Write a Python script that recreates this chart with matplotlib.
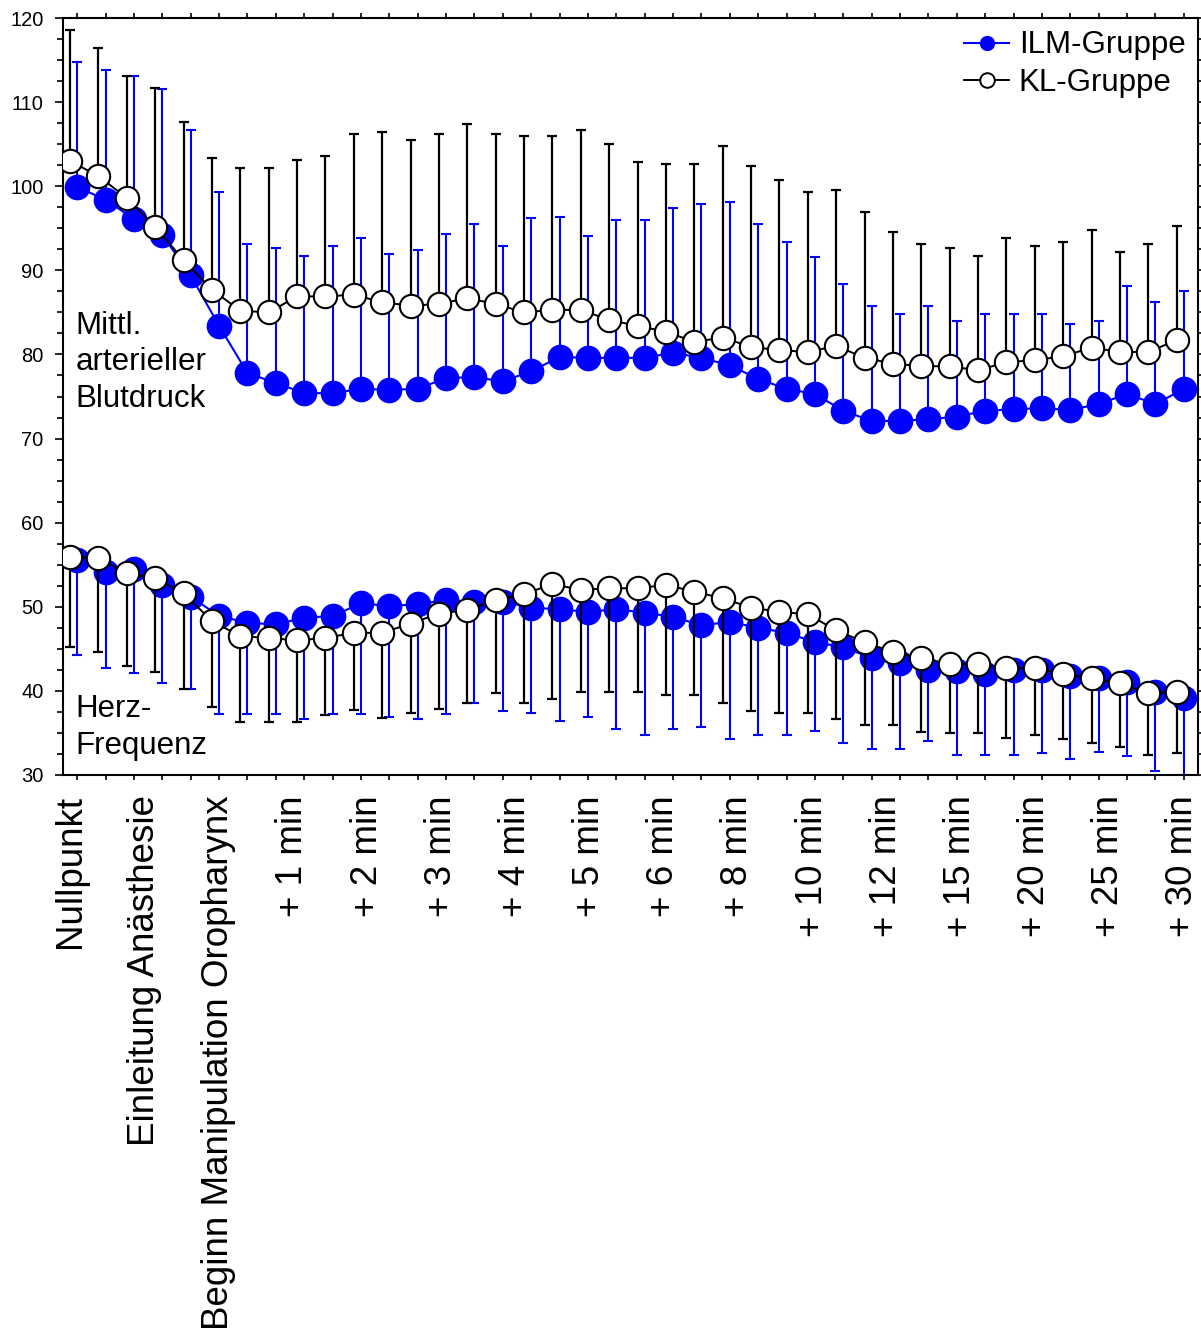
import numpy as np
import matplotlib.pyplot as plt
from matplotlib.lines import Line2D

plt.rcParams.update({
    'font.family': 'Liberation Sans',
    'axes.linewidth': 1.5,
})

# Zeitpunkte (Achsenbeschriftung)
zeitpunkte = ['Nullpunkt', 'Einleitung Anästhesie', 'Beginn Manipulation Oropharynx',
              '+ 1 min', '+ 2 min', '+ 3 min', '+ 4 min', '+ 5 min', '+ 6 min',
              '+ 8 min', '+ 10 min', '+ 12 min', '+ 15 min', '+ 20 min',
              '+ 25 min', '+ 30 min']

# Mittlerer arterieller Blutdruck, Mittelwert und SD
map_ilm = [99.9, 98.4, 96.1, 94.2, 89.4, 83.4, 77.8, 76.6, 75.4, 75.4,
           75.9, 75.8, 75.9, 77.2, 77.3, 76.8, 78.0, 79.7, 79.6, 79.6,
           79.6, 80.2, 79.6, 78.7, 77.1, 75.9, 75.3, 73.3, 72.1, 72.1,
           72.3, 72.6, 73.3, 73.5, 73.6, 73.4, 74.1, 75.3, 74.1, 75.9]
map_ilm_sd = [14.9, 15.4, 17.0, 17.4, 17.3, 15.9, 15.3, 16.1, 16.3, 17.5,
              17.9, 16.1, 16.5, 17.1, 18.2, 16.1, 18.2, 16.7, 14.5, 16.4,
              16.4, 17.2, 18.3, 19.4, 18.4, 17.5, 16.3, 15.1, 13.7, 12.7,
              13.5, 11.4, 11.5, 11.3, 11.2, 10.2, 9.9, 12.8, 12.1, 11.6]
map_kl = [103.0, 101.2, 98.6, 95.2, 91.2, 87.7, 85.2, 85.0, 86.9, 86.9,
          87.1, 86.2, 85.8, 86.0, 86.7, 86.0, 85.0, 85.3, 85.3, 84.1,
          83.4, 82.7, 81.5, 82.0, 80.9, 80.5, 80.3, 81.0, 79.6, 78.9,
          78.6, 78.6, 78.1, 79.1, 79.3, 79.8, 80.8, 80.3, 80.3, 81.7]
map_kl_sd = [15.6, 15.2, 14.5, 16.5, 16.4, 15.7, 17.0, 17.2, 16.2, 16.7,
             19.1, 20.2, 19.7, 20.2, 20.7, 20.2, 21.0, 20.7, 21.4, 20.9,
             19.5, 19.9, 21.1, 22.8, 21.5, 20.2, 19.0, 18.6, 17.3, 15.7,
             14.5, 14.1, 13.6, 14.7, 13.6, 13.6, 14.0, 11.9, 12.8, 13.6]

# Herzfrequenz, Mittelwert und SD
hr_ilm = [55.6, 54.1, 54.5, 52.6, 51.2, 48.9, 48.1, 47.9, 48.7, 48.9,
          50.4, 50.1, 50.3, 50.8, 50.6, 50.6, 49.9, 49.7, 49.4, 49.7,
          49.3, 48.8, 47.8, 48.2, 47.5, 46.9, 45.8, 45.2, 43.9, 43.3,
          42.5, 42.4, 42.0, 42.5, 42.5, 41.8, 41.5, 41.1, 39.9, 39.2]
hr_ilm_sd = [11.3, 11.4, 12.4, 11.7, 11.0, 11.7, 10.9, 10.7, 12.0, 11.7,
             13.2, 13.2, 13.6, 13.6, 12.0, 13.0, 12.5, 13.3, 12.5, 14.2,
             14.5, 13.3, 12.1, 13.9, 12.7, 12.1, 10.6, 11.4, 10.8, 10.2,
             8.5, 10.0, 9.6, 10.1, 9.9, 9.9, 8.8, 8.8, 9.4, 11.0]
hr_kl = [55.9, 55.8, 54.0, 53.4, 51.6, 48.3, 46.5, 46.3, 46.0, 46.3,
         46.9, 46.9, 48.0, 49.2, 49.6, 50.8, 51.5, 52.7, 52.0, 52.2,
         52.2, 52.6, 51.8, 51.0, 49.9, 49.4, 49.1, 47.2, 45.8, 44.6,
         43.9, 43.2, 43.2, 42.7, 42.7, 42.0, 41.5, 40.9, 39.7, 39.9]
hr_kl_sd = [10.7, 11.2, 11.0, 11.2, 11.4, 10.2, 10.2, 10.0, 9.7, 9.2,
            9.2, 10.1, 10.6, 11.4, 11.0, 11.1, 12.9, 13.7, 12.1, 12.3,
            12.3, 13.1, 12.3, 12.4, 12.3, 12.0, 11.7, 10.5, 9.9, 8.7,
            8.8, 8.2, 8.2, 8.3, 7.9, 7.7, 7.7, 7.6, 7.3, 7.3]

blue = '#0000ff'
n = len(map_ilm)
idx = np.arange(n)
x_ilm = idx
x_kl = idx - 0.25
zero = np.zeros(n)

fig = plt.figure(figsize=(12.01, 13.39), dpi=100)
ax = fig.add_axes([63 / 1201, 1 - 775 / 1339, 1135 / 1201, 757 / 1339])

# ILM-Gruppe: Fehlerbalken, dann Linie mit gefuellten Kreisen
ax.errorbar(x_ilm, map_ilm, yerr=[zero, map_ilm_sd], fmt='none', ecolor=blue,
            elinewidth=1.5, capsize=3.3, capthick=1.5, zorder=2)
ax.errorbar(x_ilm, hr_ilm, yerr=[hr_ilm_sd, zero], fmt='none', ecolor=blue,
            elinewidth=1.5, capsize=3.3, capthick=1.5, zorder=2)
for y in (map_ilm, hr_ilm):
    ax.plot(x_ilm, y, color=blue, lw=1.5, marker='o', ms=18.5,
            mfc=blue, mec=blue, mew=0, zorder=3)

# KL-Gruppe: schwarze Fehlerbalken, offene Kreise
ax.errorbar(x_kl, map_kl, yerr=[zero, map_kl_sd], fmt='none', ecolor='black',
            elinewidth=1.6, capsize=3.3, capthick=1.6, zorder=4)
ax.errorbar(x_kl, hr_kl, yerr=[hr_kl_sd, zero], fmt='none', ecolor='black',
            elinewidth=1.6, capsize=3.3, capthick=1.6, zorder=4)
for y in (map_kl, hr_kl):
    ax.plot(x_kl, y, color='black', lw=1.4, marker='o', ms=16.8,
            mfc='white', mec='black', mew=1.5, zorder=5)

ax.set_xlim(-0.5, 39.5)
ax.set_ylim(30, 120)
ax.set_yticks(np.arange(30, 121, 10))
ax.set_yticks(np.arange(30, 120.1, 2.5), minor=True)
ax.set_xticks(idx, minor=True)
ax.set_xticks(np.linspace(-0.24, 38.97, len(zeitpunkte)), zeitpunkte, rotation=90)

ax.tick_params(axis='x', which='major', length=0, pad=14.5, labelsize=26.5)
ax.tick_params(axis='x', which='minor', length=3.8, width=1.2,
               top=True, bottom=True, direction='out')
ax.tick_params(axis='y', which='both', left=True, right=True,
               direction='out', width=1.2, labelsize=14.5)
ax.tick_params(axis='y', which='major', length=6, pad=8)
ax.tick_params(axis='y', which='minor', length=4.3)

ax.text(0.011, 0.6136, 'Mittl.\narterieller\nBlutdruck', transform=ax.transAxes,
        fontsize=22.5, ha='left', va='top', linespacing=1.3)
ax.text(0.011, 0.107, 'Herz-\nFrequenz', transform=ax.transAxes,
        fontsize=22.5, ha='left', va='top', linespacing=1.3)

handles = [
    Line2D([], [], color=blue, lw=1.5, marker='o', ms=11, mfc=blue, mec=blue, mew=0),
    Line2D([], [], color='black', lw=1.4, marker='o', ms=10.5, mfc='white',
           mec='black', mew=1.4),
]
ax.legend(handles, ['ILM-Gruppe', 'KL-Gruppe'], loc='upper right',
          bbox_to_anchor=(1.0, 1.0), frameon=False, fontsize=22.5,
          borderaxespad=0, borderpad=0.4, handlelength=1.45,
          handletextpad=0.3, labelspacing=0.25)

fig.savefig('out.png', dpi=100)
